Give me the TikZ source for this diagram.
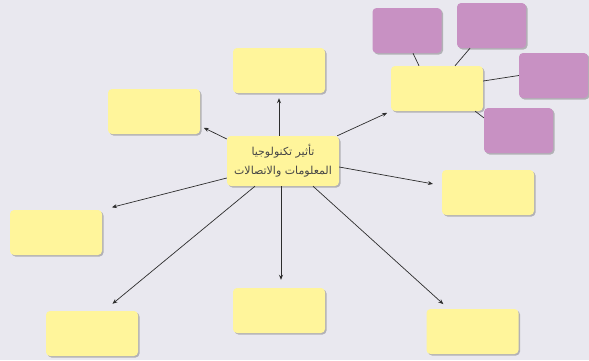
\documentclass[tikz,border=0pt]{standalone}
\usepackage{fontspec}
\TeXXeTstate=1
\newfontfamily\arabicfont[Script=Arabic]{DejaVu Sans}
\usetikzlibrary{shadows,arrows.meta}
\definecolor{bgc}{RGB}{233,232,239}
\definecolor{ybox}{RGB}{255,245,155}
\definecolor{pbox}{RGB}{200,145,195}
\definecolor{txtc}{RGB}{70,70,70}
\definecolor{linec}{RGB}{45,45,45}
\tikzset{
  card/.style={rounded corners=4pt, inner sep=0pt, minimum width=92pt, minimum height=45pt,
    drop shadow={shadow xshift=1.5pt, shadow yshift=-1.5pt, opacity=0.35, fill=black!70}},
  ycard/.style={card, fill=ybox},
  pcard/.style={card, fill=pbox, minimum width=69pt},
  arr/.style={draw=linec, line width=0.7pt, -{Stealth[length=5pt,width=4pt]}},
  link/.style={draw=linec, line width=0.7pt}
}
\begin{document}
\begin{tikzpicture}[x=1pt,y=-1pt]
\fill[bgc] (0,0) rectangle (589,360);
\useasboundingbox (0,0) rectangle (589,360);
% purple boxes
\node[pcard] (p1) at (407,30.5) {};
\node[pcard] (p2) at (491.5,25.5) {};
\node[pcard] (p3) at (553.5,75.5) {};
\node[pcard] (p4) at (518.5,130.5) {};
% yellow boxes
\node[ycard] (top) at (279,70.5) {};
\node[ycard] (ul) at (154,111.5) {};
\node[ycard] (lf) at (56,232.5) {};
\node[ycard] (bl) at (92,333.5) {};
\node[ycard] (bm) at (279,310.5) {};
\node[ycard] (br) at (472.5,331.5) {};
\node[ycard] (rt) at (488,192.5) {};
\node[ycard] (tr) at (437,88.5) {};
\node[ycard, minimum width=112pt, minimum height=50pt, align=center, text=txtc,
  font=\arabicfont\fontsize{11}{19}\selectfont] (c) at (283,161)
  {\beginR تأثير تكنولوجيا\endR\\\beginR المعلومات والاتصالات\endR};
% links to purple boxes
\draw[link] ([xshift=6pt]p1.south) -- ([xshift=-18pt]tr.north);
\draw[link] ([xshift=-21.5pt]p2.south) -- ([xshift=18pt]tr.north);
\draw[link] (p3.west) -- ([yshift=7.5pt]tr.east);
\draw[link] ([xshift=-8pt]tr.south east) -- ([yshift=-10pt]p4.north west);
% arrows
\draw[arr, shorten >=5pt] (c.north -| top) -- (top.south);
\draw[arr, shorten >=4pt] ([yshift=22pt]c.west) -- ([yshift=-14.5pt]ul.east);
\draw[arr, shorten >=10pt] ([yshift=-17pt]c.west) -- (lf.north east);
\draw[arr, shorten >=11pt] ([xshift=-28pt]c.south) -- ([xshift=12pt]bl.north);
\draw[arr, shorten >=8pt] ([xshift=-2pt]c.south) -- ([xshift=2pt]bm.north);
\draw[arr, shorten >=7pt] ([xshift=30pt]c.south) -- ([xshift=-24pt]br.north);
\draw[arr, shorten >=9pt] ([yshift=-6pt]c.east) -- ([yshift=7pt]rt.west);
\draw[arr, shorten >=4pt] ([xshift=-2pt]c.north east) -- (tr.south west);
\end{tikzpicture}
\end{document}
